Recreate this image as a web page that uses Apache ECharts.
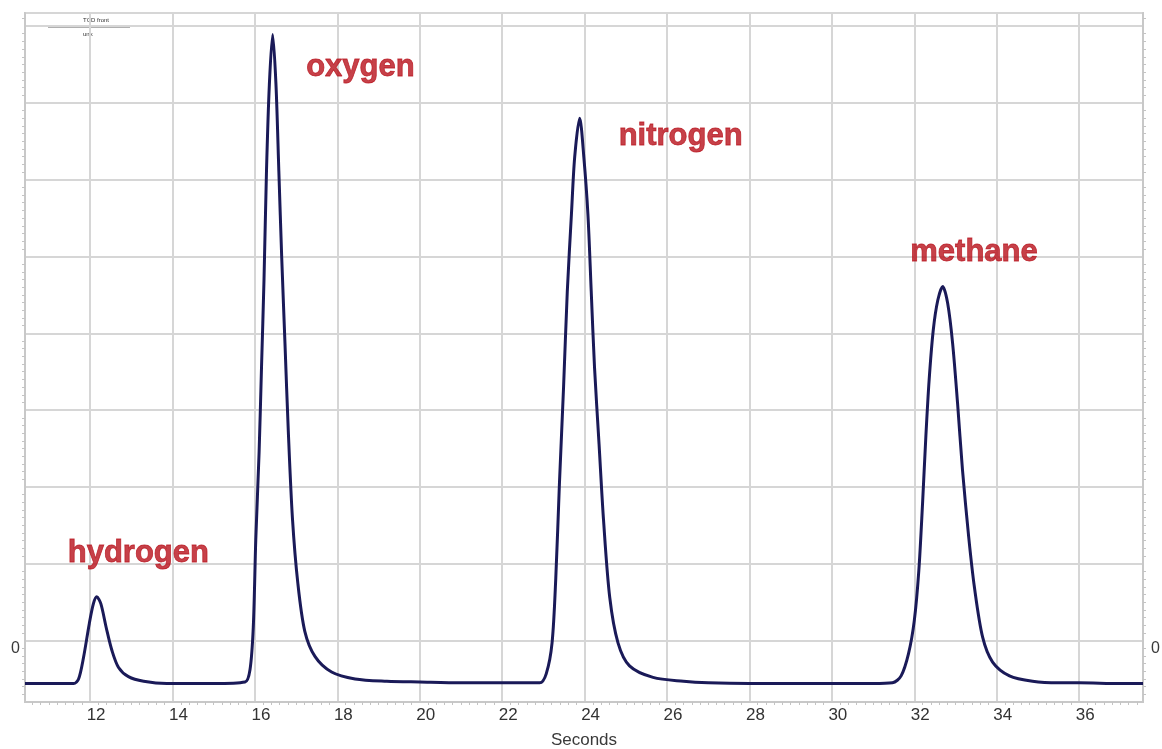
<!DOCTYPE html>
<html lang="en">
<head>
    <meta charset="UTF-8">
    <title>Chromatogram</title>
    <style>
        html, body { margin: 0; padding: 0; background: #fff; }
        #main { width: 1162px; height: 749px; }
    </style>
</head>
<body>
<div id="main"></div>
<script src="https://cdn.jsdelivr.net/npm/echarts@6/dist/echarts.min.js"></script>
<script>
    // detector trace (seconds / signal units)
    var seconds = [
        10.42, 11.0, 11.6, 11.72, 11.84, 11.98, 12.08, 12.16, 12.26, 12.39, 12.53, 12.69, 12.93, 13.3, 13.86,
        14.5, 15.0, 15.76, 15.88, 15.96, 16.02, 16.10, 16.16, 16.22, 16.28, 16.35, 16.43, 16.51, 16.58, 16.65,
        16.73, 16.81, 16.91, 17.04, 17.21, 17.46, 17.86, 18.43, 19.2, 20.0, 21.0, 22.0,
        22.91, 23.07, 23.21, 23.30, 23.39, 23.49, 23.58, 23.68, 23.76, 23.88, 23.98, 24.08, 24.16, 24.24,
        24.35, 24.46, 24.61, 24.81, 25.09, 25.66, 26.4, 27.0, 28.0, 29.0, 30.0, 31.0,
        31.47, 31.68, 31.86, 32.0, 32.11, 32.2, 32.28, 32.36, 32.46, 32.57, 32.69, 32.81, 32.93, 33.05,
        33.17, 33.32, 33.46, 33.66, 33.9, 34.31, 34.87, 35.5, 36.0, 37.0, 37.55
    ];
    var signal = [
        -0.56, -0.56, -0.56, -0.50, -0.22, 0.22, 0.48, 0.57, 0.48, 0.17, -0.13, -0.35, -0.47, -0.53, -0.56,
        -0.56, -0.56, -0.54, -0.38, 0.18, 1.31, 2.44, 3.57, 4.70, 6.11, 7.24, 7.89, 7.24, 6.11, 4.98,
        3.85, 2.72, 1.59, 0.75, 0.12, -0.21, -0.41, -0.50, -0.53, -0.54, -0.55, -0.55,
        -0.55, -0.43, -0.03, 0.81, 2.06, 3.31, 4.55, 5.55, 6.30, 6.80, 6.30, 5.55, 4.55, 3.56,
        2.56, 1.56, 0.56, -0.03, -0.33, -0.48, -0.53, -0.55, -0.56, -0.56, -0.56, -0.56,
        -0.55, -0.46, -0.17, 0.26, 0.91, 1.78, 2.65, 3.39, 4.04, 4.43, 4.61, 4.39, 3.87, 3.09,
        2.22, 1.35, 0.69, 0.04, -0.28, -0.46, -0.53, -0.55, -0.55, -0.56, -0.56
    ];

    // peak names and where their labels sit (data coords)
    var peakNames = ['hydrogen', 'oxygen', 'nitrogen', 'methane'];
    var peakLabelTime = [13.17, 18.56, 26.33, 33.45];
    var peakLabelLevel = [1.13, 7.46, 6.56, 5.05];

    var xMin = 10.42, xMax = 37.55;
    var yMin = -0.8, yMax = 8.17;

    var trace = seconds.map(function (t, i) {
        return [t, signal[i]];
    });
    var labels = peakNames.map(function (name, i) {
        return {name: name, value: [peakLabelTime[i], peakLabelLevel[i]]};
    });

    var font = '"Liberation Sans", Arial, sans-serif';
    var gridColor = '#d6d6d6';
    var red = '#b8121c';

    function yAxis(side) {
        return {
            type: 'value',
            position: side,
            min: yMin,
            max: yMax,
            splitNumber: 9,
            minInterval: 1,
            maxInterval: 1,
            axisLine: {show: true, lineStyle: {color: '#c8c8c8', width: 2}},
            axisTick: {show: false},
            minorTick: {show: true, splitNumber: 10, length: 3, lineStyle: {color: '#c4c4c4'}},
            splitLine: {show: side === 'left', lineStyle: {color: gridColor, width: 2}},
            axisLabel: {
                margin: side === 'left' ? 5 : 8,
                color: '#3a3a3a',
                fontSize: 16,
                fontFamily: font,
                verticalAlign: 'top',
                formatter: function (v) {
                    return v === 0 ? '0' : '';
                }
            }
        };
    }

    var chart = echarts.init(document.getElementById('main'));
    chart.setOption({
        animation: false,
        backgroundColor: '#fff',
        grid: {
            left: 25,
            right: 19,
            top: 13,
            bottom: 47,
            outerBoundsMode: 'none',
            containLabel: false,
            show: true,
            borderColor: '#c8c8c8',
            borderWidth: 2
        },
        xAxis: {
            type: 'value',
            min: xMin,
            max: xMax,
            splitNumber: 13,
            minInterval: 2,
            maxInterval: 2,
            name: 'Seconds',
            nameLocation: 'middle',
            nameGap: 30,
            nameTextStyle: {color: '#3a3a3a', fontSize: 17, fontFamily: font},
            axisLine: {onZero: false, lineStyle: {color: '#c8c8c8', width: 2}},
            axisTick: {show: false},
            minorTick: {show: true, splitNumber: 10, length: 3, lineStyle: {color: '#c4c4c4'}},
            splitLine: {show: true, lineStyle: {color: gridColor, width: 2}},
            axisLabel: {
                margin: 5,
                color: '#333',
                fontSize: 17,
                fontFamily: font,
                padding: [0, 0, 0, 12],
                formatter: function (v) {
                    return (Math.abs(v - Math.round(v)) < 1e-6 && Math.round(v) % 2 === 0) ? String(Math.round(v)) : '';
                }
            }
        },
        yAxis: [yAxis('left'), yAxis('right')],
        graphic: [
            {type: 'line', shape: {x1: 48, y1: 27, x2: 130, y2: 27}, style: {stroke: '#b0b0b0', lineWidth: 2}},
            {type: 'text', left: 83, top: 17, style: {text: 'TCD front', fontSize: 6, fill: '#333', fontFamily: font}},
            {type: 'text', left: 83, top: 31, style: {text: 'unk', fontSize: 6, fill: '#333', fontFamily: font}}
        ],
        series: [
            {
                type: 'line',
                data: trace,
                showSymbol: false,
                smooth: 0.3,
                lineStyle: {color: '#1a1a58', width: 3},
                z: 3
            },
            {
                type: 'scatter',
                data: labels,
                symbolSize: 1,
                itemStyle: {color: 'rgba(0,0,0,0)'},
                label: {
                    show: true,
                    position: 'inside',
                    formatter: '{b}',
                    color: red,
                    textBorderColor: red,
                    textBorderWidth: 0.8,
                    fontSize: 31,
                    fontWeight: 'bold',
                    fontFamily: font
                },
                z: 4
            }
        ]
    });
</script>
</body>
</html>
